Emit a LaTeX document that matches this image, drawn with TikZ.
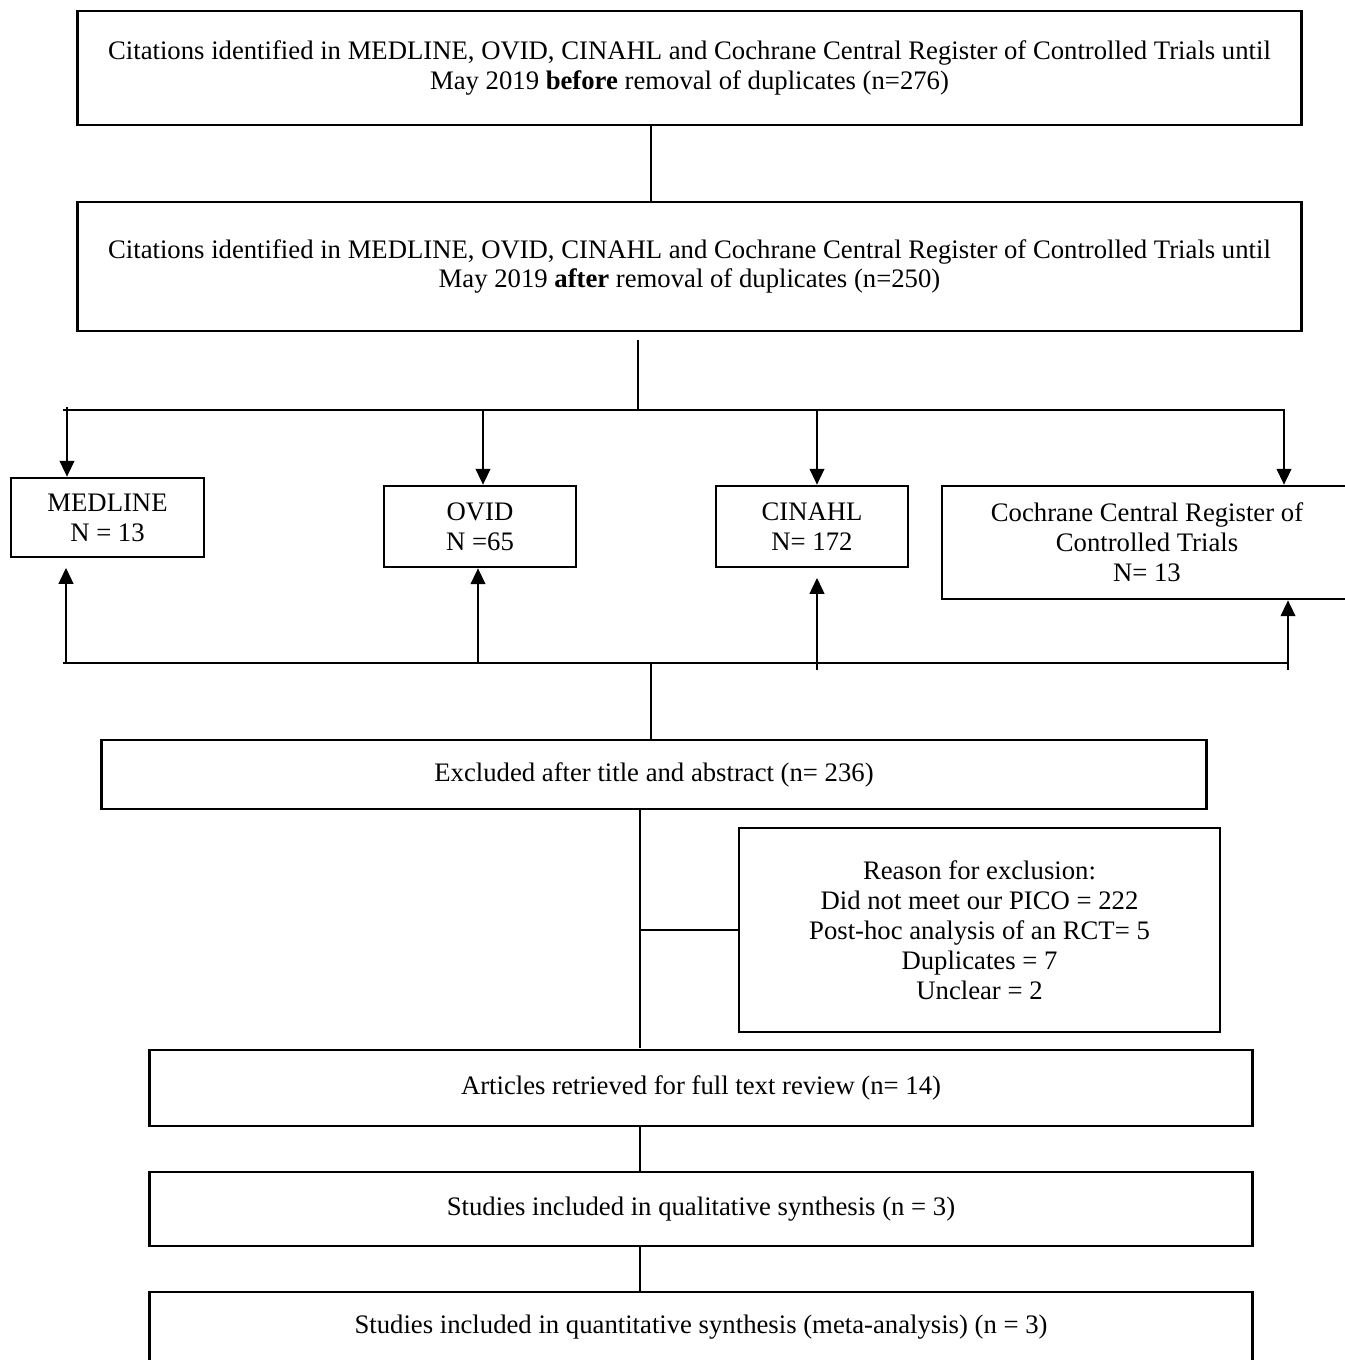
\documentclass[tikz,border=0pt]{standalone}
\usepackage{fontspec}
\setmainfont{Liberation Serif}
\usetikzlibrary{arrows.meta, positioning}

\begin{document}
\begin{tikzpicture}[x=0.02cm, y=-0.02cm,
    box/.style={draw, line width=1.6pt, align=center, inner sep=0pt, font=\fontsize{15.2}{17}\selectfont},
    conn/.style={line width=0.6pt},
    arr/.style={conn, -{Triangle[length=9pt, width=8.5pt]}}]
    \useasboundingbox (0,0) rectangle (1345,1360);

    % Search results
    \node[box, minimum width=24.5cm, minimum height=2.28cm] (srcbefore) at (689.5,68)
        {Citations identified in MEDLINE, OVID, CINAHL and Cochrane Central Register of Controlled Trials until\\
         May 2019 \textbf{before} removal of duplicates (n=276)};
    \node[box, minimum width=24.5cm, minimum height=2.58cm] (srcafter) at (689.5,266.5)
        {Citations identified in MEDLINE, OVID, CINAHL and Cochrane Central Register of Controlled Trials until\\
         May 2019 \textbf{after} removal of duplicates (n=250)};

    % Databases
    \node[box, minimum width=3.86cm, minimum height=1.58cm] (medline) at (107.5,517.5) {MEDLINE\\N = 13};
    \node[box, minimum width=3.84cm, minimum height=1.62cm] (ovid) at (480,526.5) {OVID\\N =65};
    \node[box, minimum width=3.84cm, minimum height=1.62cm] (cinahl) at (812,526.5) {CINAHL\\N= 172};
    \node[box, minimum width=8.2cm, minimum height=2.26cm] (cochrane) at (1147,542.5)
        {Cochrane Central Register of\\Controlled Trials\\N= 13};

    % Screening
    \node[box, minimum width=22.12cm, minimum height=1.38cm] (excluded) at (654,774.5)
        {Excluded after title and abstract (n= 236)};
    \node[box, minimum width=9.62cm, minimum height=4.08cm] (reason) at (979.5,930)
        {Reason for exclusion:\\Did not meet our PICO = 222\\ Post-hoc analysis of an RCT= 5\\Duplicates = 7\\Unclear = 2};
    \node[box, minimum width=22.08cm, minimum height=1.52cm] (articles) at (701,1088)
        {Articles retrieved for full text review (n= 14)};
    \node[box, minimum width=22.08cm, minimum height=1.48cm] (qual) at (701,1209)
        {Studies included in qualitative synthesis (n = 3)};
    \node[box, minimum width=22.08cm, minimum height=1.4cm] (quant) at (701,1327)
        {Studies included in quantitative synthesis (meta-analysis) (n = 3)};

    % Bus coordinates
    \coordinate (trunkA) at (651,0);
    \coordinate (trunkB) at (638,340);
    \coordinate (topL) at (63,410);
    \coordinate (topR) at (1285,410);
    \coordinate (hubtop) at (638,410);
    \coordinate (botL) at (63,663);
    \coordinate (botR) at (1287,663);
    \coordinate (hubbot) at (651,663);
    \coordinate (trunkC) at (640,0);

    \draw[conn] (trunkA |- srcbefore.south) -- (trunkA |- srcafter.north);
    \draw[conn] (trunkB) -- (hubtop);
    \draw[conn] (topL) -- (topR);
    \draw[conn] (botL) -- (botR);

    % Arrows to databases
    \draw[arr] (67,407) -- (67,0 |- medline.north);
    \draw[arr] (483,410) -- (483,0 |- ovid.north);
    \draw[arr] (817,410) -- (817,0 |- cinahl.north);
    \draw[arr] (1284,410) -- (1284,0 |- cochrane.north);

    % Arrows from bottom bus
    \draw[arr] (66,663) -- (66,568);
    \draw[arr] (478,663) -- (478,0 |- ovid.south);
    \draw[arr] (817,670) -- (817,578);
    \draw[arr] (1288,670) -- (1288,0 |- cochrane.south);

    \draw[conn] (hubbot) -- (hubbot |- excluded.north);
    \draw[conn] (trunkC |- excluded.south) -- (640,1048);
    \draw[conn] (trunkC |- reason.west) -- (reason.west);
    \draw[conn] (trunkC |- articles.south) -- (trunkC |- qual.north);
    \draw[conn] (trunkC |- qual.south) -- (trunkC |- quant.north);
\end{tikzpicture}
\end{document}
